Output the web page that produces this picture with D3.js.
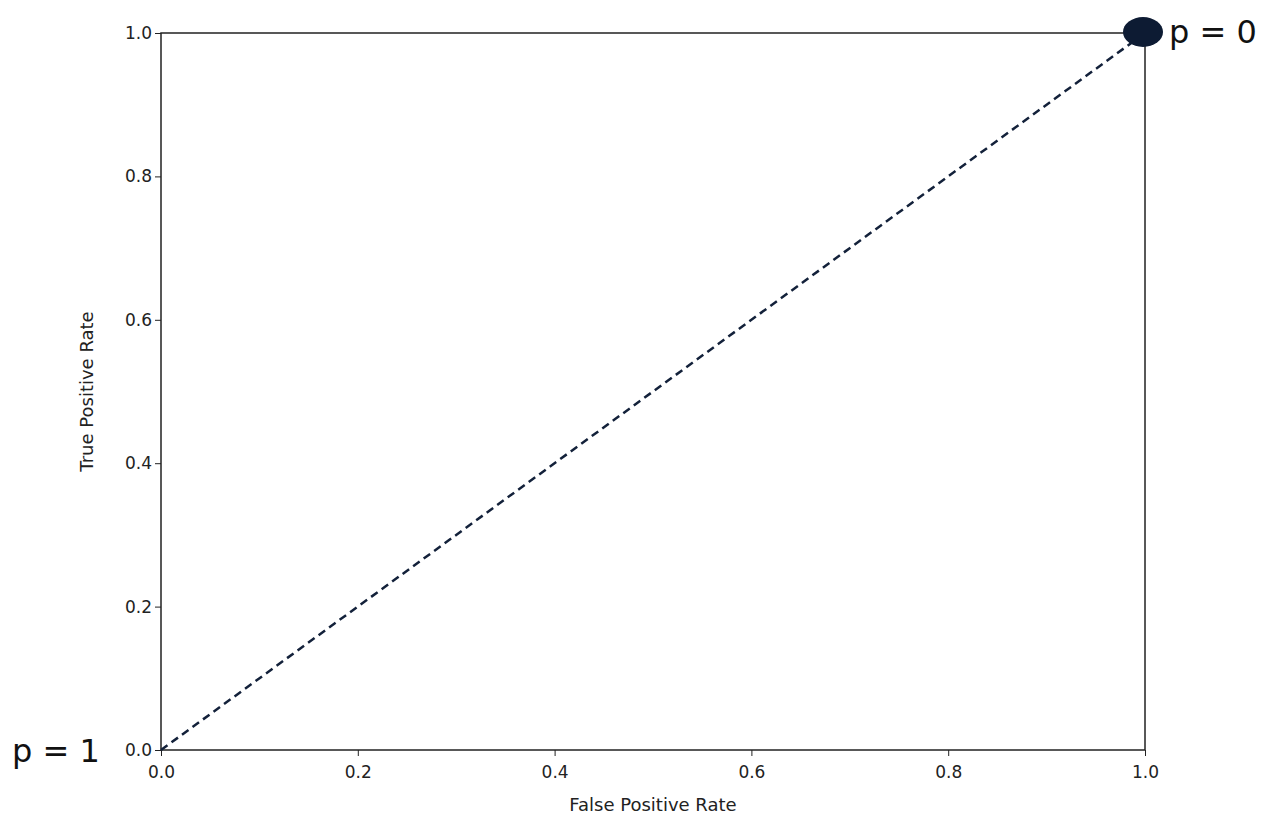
<!DOCTYPE html>
<html><head><meta charset="utf-8">
<script src="https://cdn.jsdelivr.net/npm/d3@7"></script>
<style>body{margin:0;background:#fff}svg{font-family:"DejaVu Sans",sans-serif}</style>
</head><body>
<svg id="c" width="1280" height="832"></svg>
<script>
const ticks = [0, 0.2, 0.4, 0.6, 0.8, 1.0];
const lineX = [0, 1];
const lineY = [0, 1];
const pointX = [1];
const pointY = [1];
const labels = [{t:"p = 0", x:1, y:1}, {t:"p = 1", x:0, y:0}];

const svg = d3.select("#c");
const m = {l:161, r:1145, t:33, b:750};
const x = d3.scaleLinear().domain([0,1]).range([m.l, m.r]);
const y = d3.scaleLinear().domain([0,1]).range([m.b, m.t]);

svg.append("rect").attr("x",m.l).attr("y",m.t).attr("width",m.r-m.l).attr("height",m.b-m.t)
  .attr("fill","none").attr("stroke","#222").attr("stroke-width",1.5);

const xa = svg.append("g").attr("transform",`translate(0,${m.b})`)
  .call(d3.axisBottom(x).tickValues(ticks).tickFormat(d3.format(".1f")).tickSize(6));
const ya = svg.append("g").attr("transform",`translate(${m.l},0)`)
  .call(d3.axisLeft(y).tickValues(ticks).tickFormat(d3.format(".1f")).tickSize(6));
[xa,ya].forEach(a=>{a.select(".domain").remove();a.selectAll("line").attr("stroke","#222");
  a.selectAll("text").attr("font-size",17).attr("fill","#222").attr("font-family","DejaVu Sans");});
xa.selectAll("text").attr("dy","1.1em");

svg.append("text").attr("x",(m.l+m.r)/2).attr("y",811).attr("text-anchor","middle")
  .attr("font-size",18).attr("fill","#222").text("False Positive Rate");
svg.append("text").attr("transform",`translate(93,${(m.t+m.b)/2}) rotate(-90)`).attr("text-anchor","middle")
  .attr("font-size",18).attr("fill","#222").text("True Positive Rate");

svg.append("path").datum(lineX.map((v,i)=>[v,lineY[i]]))
  .attr("d",d3.line().x(d=>x(d[0])).y(d=>y(d[1])))
  .attr("fill","none").attr("stroke","#13213a").attr("stroke-width",2.5).attr("stroke-dasharray","8,5");

svg.selectAll("ellipse.pt").data(pointX).join("ellipse")
  .attr("cx",(d)=>x(d)-2).attr("cy",(d,i)=>y(pointY[i])-1).attr("rx",20).attr("ry",15).attr("fill","#0d1b33");

svg.append("text").attr("x",x(1)+24).attr("y",y(1)+10).attr("font-size",32).attr("fill","#111").text(labels[0].t);
svg.append("text").attr("x",x(0)-149).attr("y",y(0)+12).attr("font-size",32).attr("fill","#111").text(labels[1].t);
</script></body></html>
